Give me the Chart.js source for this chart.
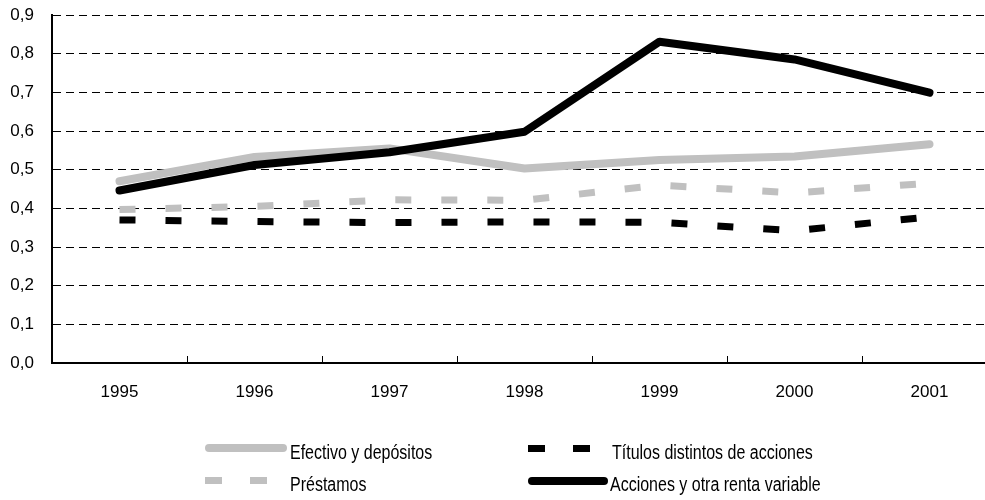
<!DOCTYPE html>
<html>
<head>
<meta charset="utf-8">
<script src="https://cdn.jsdelivr.net/npm/chart.js@4/dist/chart.umd.min.js"></script>
<style>
  html, body { margin: 0; padding: 0; background: #fff; overflow: hidden; width: 985px; height: 500px; }
  #wrap { position: relative; width: 985px; height: 500px; overflow: hidden; }
  #c { position: absolute; left: 0; top: 0; }
  .lg { position: absolute; }
  .txt { position: absolute; font-family: "Liberation Sans", Arial, sans-serif; font-size: 19.5px; color: #000;
         white-space: nowrap; transform: scaleX(0.82); transform-origin: left center; line-height: 20px; }
</style>
</head>
<body>
<div id="wrap">
  <canvas id="c" width="997" height="500"></canvas>
  <!-- legend samples -->
  <div class="lg" style="left:205px; top:444px; width:82px; height:8px; border-radius:4px; background:#c0c0c0;"></div>
  <div class="lg" style="left:205px; top:477px; width:17px; height:7px; background:#c0c0c0;"></div>
  <div class="lg" style="left:250px; top:477px; width:17px; height:7px; background:#c0c0c0;"></div>
  <div class="lg" style="left:528px; top:445px; width:17px; height:7px; background:#000;"></div>
  <div class="lg" style="left:573px; top:445px; width:17px; height:7px; background:#000;"></div>
  <div class="lg" style="left:528px; top:477px; width:80px; height:8px; border-radius:4px; background:#000;"></div>
  <div class="txt" style="left:290px; top:442px;">Efectivo y depósitos</div>
  <div class="txt" style="left:290px; top:474px;">Préstamos</div>
  <div class="txt" style="left:612px; top:442px;">Títulos distintos de acciones</div>
  <div class="txt" style="left:610px; top:474px;">Acciones y otra renta variable</div>
</div>
<script>
const categories = ['1995', '1996', '1997', '1998', '1999', '2000', '2001'];
const efectivoDepositos = [0.470, 0.533, 0.555, 0.503, 0.525, 0.534, 0.566];
const prestamos = [0.397, 0.405, 0.422, 0.421, 0.460, 0.440, 0.465];
const titulosDistintos = [0.370, 0.366, 0.363, 0.365, 0.364, 0.342, 0.378];
const accionesRenta = [0.446, 0.512, 0.545, 0.598, 0.831, 0.785, 0.699];
const yTickLabels = ['0,0', '0,1', '0,2', '0,3', '0,4', '0,5', '0,6', '0,7', '0,8', '0,9'];

Chart.defaults.font.family = '"Liberation Sans", Arial, sans-serif';
Chart.defaults.font.size = 17;
Chart.defaults.color = '#000';

new Chart(document.getElementById('c'), {
  type: 'line',
  data: {
    labels: categories,
    datasets: [
      { label: 'Efectivo y depósitos', data: efectivoDepositos, borderColor: '#c0c0c0', borderWidth: 8,
        borderCapStyle: 'round', borderJoinStyle: 'round', order: 3 },
      { label: 'Préstamos', data: prestamos, borderColor: '#c0c0c0', borderWidth: 7,
        borderDash: [16, 30], borderCapStyle: 'butt', order: 4 },
      { label: 'Títulos distintos de acciones', data: titulosDistintos, borderColor: '#000', borderWidth: 7,
        borderDash: [16, 30], borderCapStyle: 'butt', order: 2 },
      { label: 'Acciones y otra renta variable', data: accionesRenta, borderColor: '#000', borderWidth: 8,
        borderCapStyle: 'round', borderJoinStyle: 'round', order: 1 }
    ]
  },
  options: {
    responsive: false,
    animation: false,
    devicePixelRatio: 1,
    layout: { padding: { top: 15, left: 0, right: 0, bottom: 0 } },
    elements: { point: { radius: 0, hoverRadius: 0 }, line: { tension: 0, fill: false } },
    plugins: { legend: { display: false }, tooltip: { enabled: false } },
    scales: {
      x: {
        offset: true,
        grid: { display: true, drawOnChartArea: false, drawTicks: true, offset: true, tickLength: -7,
                tickColor: '#000', tickWidth: 1 },
        border: { display: true, color: '#000', width: 2 },
        ticks: { padding: 26, maxRotation: 0, autoSkip: false, font: { size: 17 } },
        afterFit: (s) => { s.height = 137; }
      },
      y: {
        min: 0, max: 0.9,
        ticks: { stepSize: 0.1, padding: 4, font: { size: 17 },
                 callback: (v, i) => yTickLabels[i] },
        grid: { color: '#000', lineWidth: 1, drawTicks: true, tickLength: 14, tickColor: 'rgba(0,0,0,0)' },
        border: { display: true, color: '#000', width: 2, dash: [8, 5] },
        afterFit: (s) => { s.width = 52; }
      }
    }
  }
});
</script>
</body>
</html>
